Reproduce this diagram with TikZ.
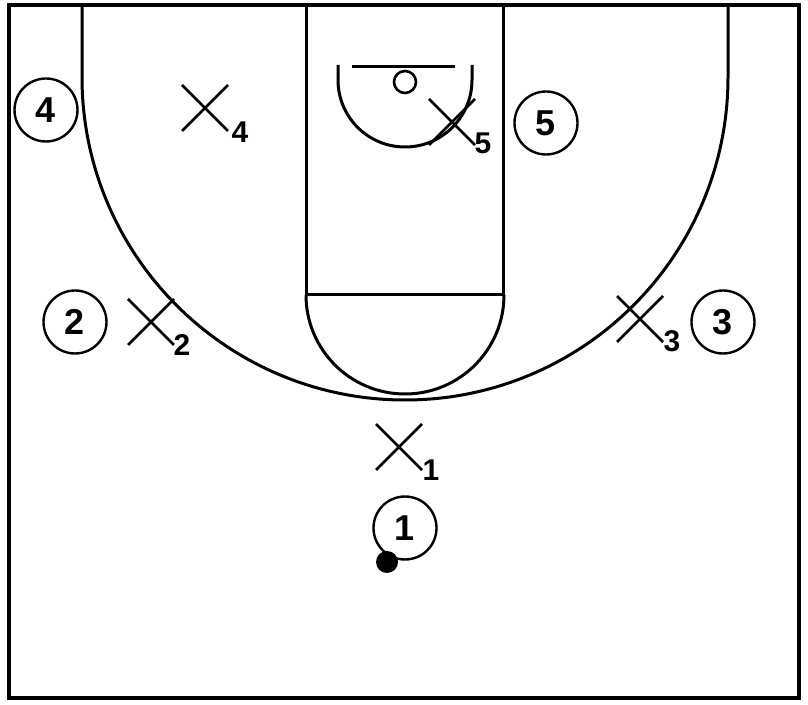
\documentclass[tikz,border=0pt]{standalone}
\usepackage{fontspec}
\setmainfont{Liberation Sans}
\usetikzlibrary{calc}
\begin{document}
\begin{tikzpicture}[x=1pt,y=1pt,
  court/.style={line width=3pt},
  player/.style={circle,draw,line width=2.4pt,minimum size=63pt,inner sep=0pt,font=\fontsize{36}{36}\selectfont\bfseries},
  defx/.style={line width=2.6pt},
  sublbl/.style={inner sep=0pt,font=\fontsize{30}{30}\selectfont\bfseries},
  ballst/.style={circle,fill=black,minimum size=22pt,inner sep=0pt}]
\useasboundingbox (0,0) rectangle (808,704);
\fill[white] (0,0) rectangle (808,704);
% court
\draw[line width=4pt] (9,6) rectangle (799,699);
\draw[court] (306,699) -- (306,409) -- (503,409) -- (503,699);
\draw[court] (306,409) arc(180:360:99);
\draw[court] (82,699) -- (82,627) arc(180:360:323) -- (728,699);
\draw[court] (338,639) -- (338,624) arc(180:360:67) -- (472,639);
\draw[court] (352,637) -- (455,637);
\draw[court,line width=2.6pt] (405,622) circle (11);
% offense
\node[player] (o4) at (46,594) {4};
\node[player] (o5) at (546,581) {5};
\node[player] (o2) at (75,382) {2};
\node[player] (o3) at (723,382) {3};
\node[player] (o1) at (405,176) {1};
\node[ballst] (ball) at (387,142) {};
% defense
\foreach \n/\x/\y in {4/205/596, 5/452/582, 2/151/382, 3/640/385, 1/399/257}{
  \coordinate (d\n) at (\x,\y);
  \draw[defx] ($(d\n)+(-23,23)$) -- ($(d\n)+(23,-23)$);
  \draw[defx] ($(d\n)+(-23,-23)$) -- ($(d\n)+(23,23)$);
}
\node[sublbl] (l4) at (240,572) {4};
\node[sublbl] (l5) at (483,561) {5};
\node[sublbl] (l2) at (182,359) {2};
\node[sublbl] (l3) at (672,363) {3};
\node[sublbl] (l1) at (431,234) {1};
\end{tikzpicture}
\end{document}
